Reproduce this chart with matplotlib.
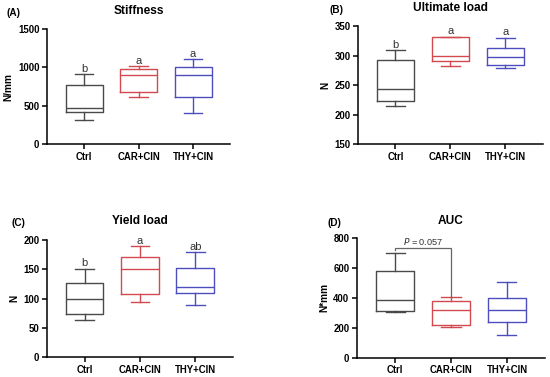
import matplotlib
matplotlib.use("Agg")
import matplotlib.pyplot as plt

plt.rcParams['font.family'] = ['Liberation Sans', 'DejaVu Sans']

groups = ["Ctrl", "CAR+CIN", "THY+CIN"]
colors = ["#4a4a4a", "#d24a4f", "#4d4dbd"]

# stats per group: whislo, q1, med, q3, whishi
stiff_lo = [309, 609, 404]
stiff_q1 = [413, 683, 613]
stiff_med = [470, 896, 900]
stiff_q3 = [774, 983, 1000]
stiff_hi = [913, 1013, 1109]
stiff_letters = ["b", "a", "a"]

ult_lo = [215, 282, 279]
ult_q1 = [223, 290, 284]
ult_med = [243, 299, 297]
ult_q3 = [293, 331, 312]
ult_hi = [309, 332, 330]
ult_letters = ["b", "a", "a"]

yld_lo = [63, 94, 89]
yld_q1 = [73, 108, 110]
yld_med = [100, 150, 119]
yld_q3 = [127, 171, 153]
yld_hi = [151, 190, 179]
yld_letters = ["b", "a", "ab"]

auc_lo = [305, 205, 154]
auc_q1 = [312, 216, 239]
auc_med = [384, 317, 321]
auc_q3 = [577, 381, 397]
auc_hi = [698, 406, 504]
auc_p_text = "= 0.057"
auc_p_y = 735

panels = [
    dict(tag="(A)", title="Stiffness", ylabel="N/mm", ylim=(0, 1500), yticks=[0, 500, 1000, 1500],
         lo=stiff_lo, q1=stiff_q1, med=stiff_med, q3=stiff_q3, hi=stiff_hi, letters=stiff_letters,
         rect=[0.0855, 0.618, 0.333, 0.305], title_y=0.972, tag_xy=(0.012, 0.965)),
    dict(tag="(B)", title="Ultimate load", ylabel="N", ylim=(150, 350), yticks=[150, 200, 250, 300, 350],
         lo=ult_lo, q1=ult_q1, med=ult_med, q3=ult_q3, hi=ult_hi, letters=ult_letters,
         rect=[0.651, 0.618, 0.336, 0.313], title_y=0.978, tag_xy=(0.6, 0.973)),
    dict(tag="(C)", title="Yield load", ylabel="N", ylim=(0, 200), yticks=[0, 50, 100, 150, 200],
         lo=yld_lo, q1=yld_q1, med=yld_med, q3=yld_q3, hi=yld_hi, letters=yld_letters,
         rect=[0.0855, 0.053, 0.338, 0.310], title_y=0.415, tag_xy=(0.02, 0.408)),
    dict(tag="(D)", title="AUC", ylabel="N*mm", ylim=(0, 800), yticks=[0, 200, 400, 600, 800],
         lo=auc_lo, q1=auc_q1, med=auc_med, q3=auc_q3, hi=auc_hi, letters=None,
         rect=[0.649, 0.051, 0.342, 0.318], title_y=0.415, tag_xy=(0.595, 0.408)),
]

fig = plt.figure(figsize=(5.5, 3.77), dpi=100)

for p in panels:
    ax = fig.add_axes(p["rect"])
    for i, g in enumerate(groups):
        s = dict(label=g, whislo=p["lo"][i], q1=p["q1"][i], med=p["med"][i],
                 q3=p["q3"][i], whishi=p["hi"][i], fliers=[])
        c = colors[i]
        ax.bxp([s], positions=[i], widths=0.68, capwidths=0.34, showfliers=False,
               boxprops=dict(color=c, linewidth=1.0),
               medianprops=dict(color=c, linewidth=1.0),
               whiskerprops=dict(color=c, linewidth=1.0),
               capprops=dict(color=c, linewidth=1.0), manage_ticks=False)
    ax.set_xlim(-0.68, 2.68)
    ax.set_ylim(*p["ylim"])
    ax.set_yticks(p["yticks"])
    ax.set_xticks(range(len(groups)))
    ax.set_xticklabels(groups)
    for sp in ["top", "right"]:
        ax.spines[sp].set_visible(False)
    for sp in ["left", "bottom"]:
        ax.spines[sp].set_linewidth(1.1)
    ax.tick_params(axis="both", length=3.5, width=1.1, labelsize=6.9, pad=2)
    for lab in ax.get_xticklabels() + ax.get_yticklabels():
        lab.set_fontweight("bold")
    ax.set_ylabel(p["ylabel"], fontsize=7.3, fontweight="bold", labelpad=3)
    cx = p["rect"][0] + p["rect"][2] * (1 + 0.68) / 3.36
    fig.text(cx, p["title_y"], p["title"], ha="center", va="center",
             fontsize=8.6, fontweight="bold")
    fig.text(p["tag_xy"][0], p["tag_xy"][1], p["tag"], ha="left", va="center",
             fontsize=7.2, fontweight="bold")
    if p["letters"]:
        for i, l in enumerate(p["letters"]):
            ax.annotate(l, (i, p["hi"][i]), xytext=(0, 0.3), textcoords="offset points",
                        ha="center", va="bottom", fontsize=8, color="#333333")
    else:
        bc = "#666666"
        ax.plot([0, 0, 1, 1], [auc_p_y - 15, auc_p_y, auc_p_y, p["hi"][1]],
                color=bc, linewidth=0.9, solid_joinstyle="miter")
        ax.text(0.5, auc_p_y + 6, r"$\mathit{P}$ " + auc_p_text, ha="center", va="bottom",
                fontsize=6.6, color="#333333")

fig.savefig("out.png", dpi=100)
